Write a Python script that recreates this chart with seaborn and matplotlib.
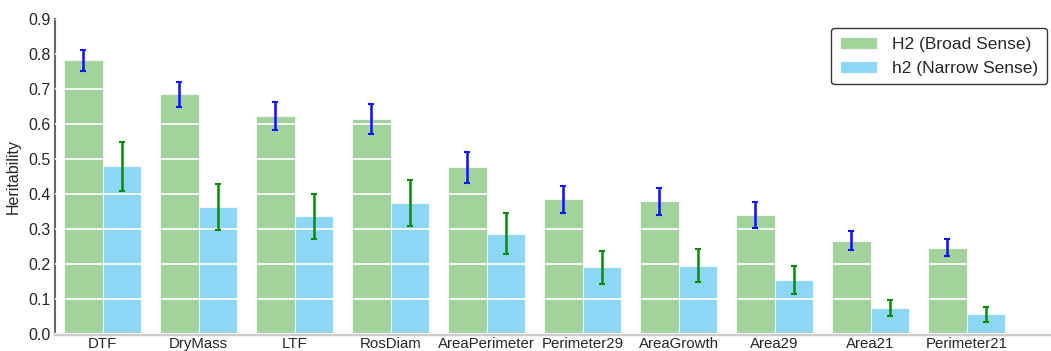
import matplotlib
matplotlib.use("Agg")
import matplotlib.pyplot as plt
import seaborn as sns
import pandas as pd
import numpy as np

# Heritability estimates per trait
traits = ["DTF", "DryMass", "LTF", "RosDiam", "AreaPerimeter", "Perimeter29",
          "AreaGrowth", "Area29", "Area21", "Perimeter21"]
broad_h2 = [0.782, 0.685, 0.623, 0.615, 0.476, 0.385, 0.379, 0.341, 0.267, 0.247]
broad_err = [0.030, 0.035, 0.039, 0.043, 0.045, 0.038, 0.039, 0.037, 0.027, 0.025]
narrow_h2 = [0.479, 0.364, 0.336, 0.374, 0.287, 0.191, 0.195, 0.155, 0.074, 0.056]
narrow_err = [0.071, 0.066, 0.065, 0.066, 0.059, 0.047, 0.047, 0.040, 0.023, 0.021]
series_names = ["H2 (Broad Sense)", "h2 (Narrow Sense)"]
y_ticks = [0.0, 0.1, 0.2, 0.3, 0.4, 0.5, 0.6, 0.7, 0.8, 0.9]

sns.set_style("white")
plt.rcParams["font.family"] = ["Liberation Sans", "DejaVu Sans"]

df = pd.DataFrame({
    "trait": traits * 2,
    "value": broad_h2 + narrow_h2,
    "err": broad_err + narrow_err,
    "kind": [series_names[0]] * len(traits) + [series_names[1]] * len(traits),
})

fig = plt.figure(figsize=(10.51, 3.51), dpi=100)
ax = fig.add_axes([54.7 / 1051, 17 / 351, 1 - 54.7 / 1051, 1 - 36 / 351])

palette = {series_names[0]: "#a3d39c", series_names[1]: "#8dd7f5"}
sns.barplot(data=df, x="trait", y="value", hue="kind", palette=palette,
            errorbar=None, saturation=1, ax=ax, edgecolor="#f2f8f2",
            linewidth=0.8)

# error bars placed at the centre of each drawn bar
err_colors = {series_names[0]: "#1010f0", series_names[1]: "#0a8a0a"}
for container, name in zip(ax.containers, series_names):
    sub = df[df["kind"] == name]
    xs = [p.get_x() + p.get_width() / 2 for p in container.patches]
    ax.errorbar(xs, sub["value"].values, yerr=sub["err"].values, fmt="none",
                ecolor=err_colors[name], elinewidth=1.8, capsize=2,
                capthick=1.5, zorder=5)

ax.set_xlim(-0.5, 9.88)
ax.set_ylim(0, 0.9)
ax.set_yticks(y_ticks)
ax.set_yticklabels([f"{t:.1f}" for t in y_ticks], fontsize=11.5)
ax.tick_params(axis="x", labelsize=10.8, direction="in", length=3,
               width=1, color="#333333", pad=2)
ax.tick_params(axis="y", direction="out", length=2.5, width=1,
               color="#555555", pad=0.5)
ax.set_xlabel("")
ax.set_ylabel("Heritability", fontsize=11.5, labelpad=5)

# white grid lines show across the bars
ax.set_axisbelow(False)
ax.yaxis.grid(True, color="white", linewidth=1.2)
ax.xaxis.grid(False)

for side in ["top", "right"]:
    ax.spines[side].set_visible(False)
ax.spines["left"].set_color("#666666")
ax.spines["left"].set_linewidth(1.5)
ax.spines["bottom"].set_color("#cccccc")
ax.spines["bottom"].set_linewidth(2.5)

handles, labels = ax.get_legend_handles_labels()
leg = ax.legend(handles, labels, loc="upper right",
                bbox_to_anchor=(1047 / 1051, 1 - 28 / 351),
                bbox_transform=fig.transFigure, fontsize=12.5, frameon=True,
                fancybox=True, handlelength=2.1, handleheight=0.7,
                borderpad=0.5, labelspacing=0.5, handletextpad=0.9,
                borderaxespad=0)
leg.get_frame().set_edgecolor("black")
leg.get_frame().set_linewidth(1.0)

fig.savefig("out.png", dpi=100)
